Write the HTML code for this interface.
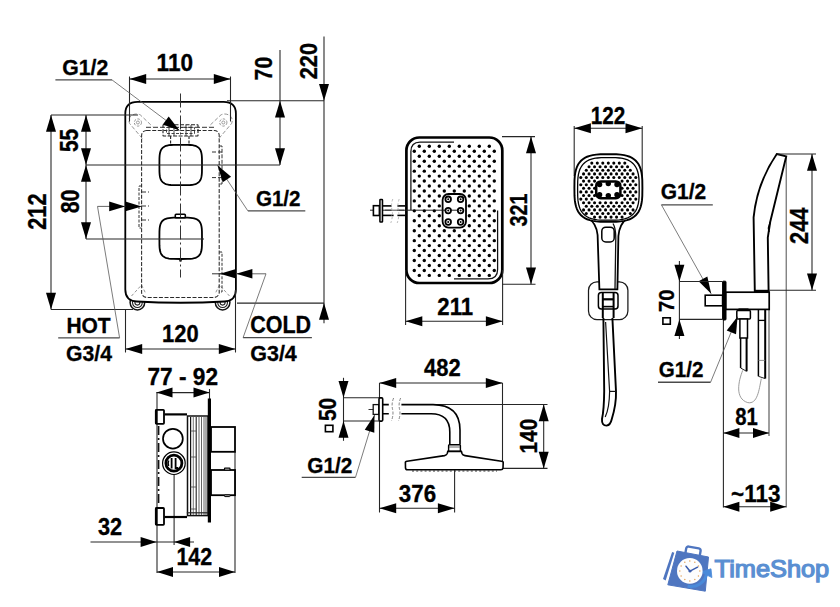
<!DOCTYPE html>
<html lang="en">
<head>
<meta charset="utf-8">
<title>Shower set - dimensional drawing</title>
<style>
html, body { margin: 0; padding: 0; background: #fff; }
body { width: 840px; height: 607px; overflow: hidden; }
svg { display: block; }
svg text { font-family: "Liberation Sans", Arial, Helvetica, sans-serif; font-weight: bold; fill: #000; }
</style>
</head>
<body>
<svg width="840" height="607" viewBox="0 0 840 607">
<rect x="0" y="0" width="840" height="607" fill="#ffffff"/>
<circle cx="137.4" cy="302.6" r="7.3" fill="#fff" stroke="#111" stroke-width="1.5" />
<circle cx="137.4" cy="302.6" r="4.9" fill="none" stroke="#222" stroke-width="1.1" />
<circle cx="137.4" cy="302.6" r="2.5" fill="none" stroke="#222" stroke-width="1.1" />
<circle cx="222.6" cy="302.6" r="7.3" fill="#fff" stroke="#111" stroke-width="1.5" />
<circle cx="222.6" cy="302.6" r="4.9" fill="none" stroke="#222" stroke-width="1.1" />
<circle cx="222.6" cy="302.6" r="2.5" fill="none" stroke="#222" stroke-width="1.1" />
<path d="M125.3,113.5 Q125.3,101.8 137.5,101.8 L223.5,101.8 Q235.9,101.8 235.9,113.5 L235.9,289.5 Q235.9,300.8 224.5,301.5 Q180.5,304 136.7,301.5 Q125.3,300.8 125.3,289.5 Z" fill="#fff" stroke="#000" stroke-width="1.8" />
<circle cx="137.9" cy="122.5" r="3.6" fill="none" stroke="#888" stroke-width="0.9" stroke-dasharray="2.5 1.5"/>
<circle cx="137.9" cy="122.5" r="1.5" fill="none" stroke="#888" stroke-width="0.8" />
<path d="M142.3,138.5 L129.6,123.5 Q127.6,118 132,115.2 Q136,113 140.2,114.8 L152.4,126.4" fill="none" stroke="#888" stroke-width="0.9" stroke-dasharray="4 2"/>
<circle cx="223.3" cy="122.5" r="3.6" fill="none" stroke="#888" stroke-width="0.9" stroke-dasharray="2.5 1.5"/>
<circle cx="223.3" cy="122.5" r="1.5" fill="none" stroke="#888" stroke-width="0.8" />
<path d="M218.9,138.5 L231.6,123.5 Q233.6,118 229.2,115.2 Q225.2,113 221,114.8 L208.8,126.4" fill="none" stroke="#888" stroke-width="0.9" stroke-dasharray="4 2"/>
<polyline points="131.5,296 141.5,285 145.5,293" fill="none" stroke="#888" stroke-width="0.9" stroke-dasharray="3 2"/>
<polyline points="229.5,296 219.5,285 215.5,293" fill="none" stroke="#888" stroke-width="0.9" stroke-dasharray="3 2"/>
<rect x="141.6" y="130.4" width="77.6" height="167" rx="5" fill="none" stroke="#2a2a2a" stroke-width="1.05" stroke-dasharray="4 1.6"/>
<line x1="146" y1="127.3" x2="215" y2="127.3" stroke="#333" stroke-width="1" stroke-dasharray="5 2"/>
<rect x="163" y="124.8" width="35" height="11.2" rx="0.5" fill="none" stroke="#222" stroke-width="1.1" stroke-dasharray="4 1.5"/>
<rect x="166.5" y="127.5" width="28" height="6" rx="0" fill="none" stroke="#333" stroke-width="0.9" stroke-dasharray="3 1.5"/>
<line x1="169" y1="125" x2="169" y2="136" stroke="#333" stroke-width="0.9" />
<line x1="174" y1="125" x2="174" y2="136" stroke="#333" stroke-width="0.9" />
<line x1="186" y1="125" x2="186" y2="136" stroke="#333" stroke-width="0.9" />
<line x1="191" y1="125" x2="191" y2="136" stroke="#333" stroke-width="0.9" />
<line x1="170.6" y1="136" x2="170.6" y2="143.5" stroke="#222" stroke-width="1.1" stroke-dasharray="3 1.5"/>
<line x1="189" y1="136" x2="189" y2="143.5" stroke="#222" stroke-width="1.1" stroke-dasharray="3 1.5"/>
<polyline points="219.3,146 222,146 222,184 219.3,184" fill="none" stroke="#333" stroke-width="1" stroke-dasharray="4 1.5"/>
<line x1="212" y1="152" x2="222" y2="152" stroke="#333" stroke-width="1" stroke-dasharray="4 2"/>
<line x1="212" y1="177.6" x2="222" y2="177.6" stroke="#333" stroke-width="1" stroke-dasharray="4 2"/>
<polyline points="141.5,186 139,186 139,228 141.5,228" fill="none" stroke="#333" stroke-width="1" stroke-dasharray="3 1.5"/>
<line x1="141" y1="192" x2="149" y2="192" stroke="#333" stroke-width="1" stroke-dasharray="5 2"/>
<line x1="141" y1="206" x2="149" y2="206" stroke="#333" stroke-width="1" stroke-dasharray="5 2"/>
<line x1="141" y1="220" x2="149" y2="220" stroke="#333" stroke-width="1" stroke-dasharray="5 2"/>
<polyline points="219.3,252 222,252 222,292 219.3,292" fill="none" stroke="#333" stroke-width="1" stroke-dasharray="3 1.5"/>
<line x1="212" y1="273.8" x2="221" y2="273.8" stroke="#333" stroke-width="1" />
<path d="M202,165 L201.95,171.68 L201.8,174.28 L201.56,176.21 L201.21,177.79 L200.76,179.12 L200.21,180.27 L199.54,181.26 L198.76,182.13 L197.85,182.87 L196.8,183.5 L195.59,184.03 L194.18,184.45 L192.52,184.78 L190.48,185.01 L187.75,185.15 L180.7,185.2 L173.65,185.15 L170.92,185.01 L168.88,184.78 L167.22,184.45 L165.81,184.03 L164.6,183.5 L163.55,182.87 L162.64,182.13 L161.86,181.26 L161.19,180.27 L160.64,179.12 L160.19,177.79 L159.84,176.21 L159.6,174.28 L159.45,171.68 L159.4,165 L159.45,158.32 L159.6,155.72 L159.84,153.79 L160.19,152.21 L160.64,150.88 L161.19,149.73 L161.86,148.74 L162.64,147.87 L163.55,147.13 L164.6,146.5 L165.81,145.97 L167.22,145.55 L168.88,145.22 L170.92,144.99 L173.65,144.85 L180.7,144.8 L187.75,144.85 L190.48,144.99 L192.52,145.22 L194.18,145.55 L195.59,145.97 L196.8,146.5 L197.85,147.13 L198.76,147.87 L199.54,148.74 L200.21,149.73 L200.76,150.88 L201.21,152.21 L201.56,153.79 L201.8,155.72 L201.95,158.32 Z" fill="#fff" stroke="#000" stroke-width="1.8" />
<path d="M202,238.3 L201.95,245.15 L201.8,247.81 L201.56,249.79 L201.21,251.4 L200.76,252.77 L200.21,253.95 L199.54,254.97 L198.76,255.85 L197.85,256.61 L196.8,257.26 L195.59,257.8 L194.18,258.23 L192.52,258.57 L190.48,258.81 L187.75,258.95 L180.7,259 L173.65,258.95 L170.92,258.81 L168.88,258.57 L167.22,258.23 L165.81,257.8 L164.6,257.26 L163.55,256.61 L162.64,255.85 L161.86,254.97 L161.19,253.95 L160.64,252.77 L160.19,251.4 L159.84,249.79 L159.6,247.81 L159.45,245.15 L159.4,238.3 L159.45,231.45 L159.6,228.79 L159.84,226.81 L160.19,225.2 L160.64,223.83 L161.19,222.65 L161.86,221.63 L162.64,220.75 L163.55,219.99 L164.6,219.34 L165.81,218.8 L167.22,218.37 L168.88,218.03 L170.92,217.79 L173.65,217.65 L180.7,217.6 L187.75,217.65 L190.48,217.79 L192.52,218.03 L194.18,218.37 L195.59,218.8 L196.8,219.34 L197.85,219.99 L198.76,220.75 L199.54,221.63 L200.21,222.65 L200.76,223.83 L201.21,225.2 L201.56,226.81 L201.8,228.79 L201.95,231.45 Z" fill="#fff" stroke="#000" stroke-width="1.8" />
<rect x="175.3" y="214.2" width="10" height="3.6" rx="0.8" fill="#fff" stroke="#000" stroke-width="1.6" />
<line x1="180.5" y1="259" x2="180.5" y2="261.5" stroke="#000" stroke-width="2.4" />
<line x1="180.5" y1="93.5" x2="180.5" y2="277.5" stroke="#2a2a2a" stroke-width="0.95" stroke-dasharray="14 3 2 3"/>
<line x1="129.5" y1="76.5" x2="129.5" y2="121.5" stroke="#262626" stroke-width="1.08" />
<line x1="230.5" y1="76.5" x2="230.5" y2="121.5" stroke="#262626" stroke-width="1.08" />
<line x1="129.5" y1="79" x2="230.5" y2="79" stroke="#262626" stroke-width="1.08" />
<polygon points="129.5,79 146.2,74 146.2,84" fill="#000"/>
<polygon points="230.5,79 213.8,84 213.8,74" fill="#000"/>
<text transform="translate(156.6 71.35) scale(1.027 1.120)" font-size="22" stroke="#000" stroke-width="0.3">110</text>
<text transform="translate(62.3 75.36) scale(0.966 1.007)" font-size="22" stroke="#000" stroke-width="0.3">G1/2</text>
<line x1="55.4" y1="79.9" x2="112" y2="79.9" stroke="#4a4a4a" stroke-width="1.35"/>
<line x1="112" y1="79.9" x2="179.5" y2="130.5" stroke="#5a5a5a" stroke-width="0.8"/>
<polygon points="179.5,130.5 162.81,124.55 168.69,116.46" fill="#000"/>
<line x1="51" y1="115" x2="138" y2="115" stroke="#262626" stroke-width="1.08" />
<line x1="86" y1="165" x2="280" y2="165" stroke="#262626" stroke-width="1.08" />
<line x1="86" y1="239" x2="204" y2="239" stroke="#262626" stroke-width="1.08" />
<line x1="51" y1="309.5" x2="133" y2="309.5" stroke="#262626" stroke-width="1.08" />
<line x1="51" y1="115" x2="51" y2="309.5" stroke="#262626" stroke-width="1.08" />
<polygon points="51,115 56,131.7 46,131.7" fill="#000"/>
<polygon points="51,309.5 46,292.8 56,292.8" fill="#000"/>
<text transform="translate(45.7 229.7) rotate(-90) scale(0.985 1.156)" font-size="22" stroke="#000" stroke-width="0.3">212</text>
<line x1="86" y1="115" x2="86" y2="239" stroke="#262626" stroke-width="1.08" />
<polygon points="86,115 91,131.7 81,131.7" fill="#000"/>
<polygon points="86,165 81,148.3 91,148.3" fill="#000"/>
<polygon points="86,165 91,181.7 81,181.7" fill="#000"/>
<polygon points="86,239 81,222.3 91,222.3" fill="#000"/>
<text transform="translate(78.44 152) rotate(-90) scale(0.946 1.182)" font-size="22" stroke="#000" stroke-width="0.3">55</text>
<text transform="translate(78.64 213.3) rotate(-90) scale(0.971 1.178)" font-size="22" stroke="#000" stroke-width="0.3">80</text>
<line x1="280" y1="50" x2="280" y2="165" stroke="#262626" stroke-width="1.08" />
<polygon points="280,100.8 285,117.5 275,117.5" fill="#000"/>
<polygon points="280,165 275,148.3 285,148.3" fill="#000"/>
<text transform="translate(272.45 80.4) rotate(-90) scale(0.966 1.120)" font-size="22" stroke="#000" stroke-width="0.3">70</text>
<line x1="227" y1="100.8" x2="324" y2="100.8" stroke="#262626" stroke-width="1.08" />
<line x1="237" y1="303.1" x2="324" y2="303.1" stroke="#262626" stroke-width="1.08" />
<line x1="324" y1="36.4" x2="324" y2="323.3" stroke="#262626" stroke-width="1.08" />
<polygon points="324,100.8 319,84.1 329,84.1" fill="#000"/>
<polygon points="324,303.1 329,319.8 319,319.8" fill="#000"/>
<text transform="translate(316.76 79.3) rotate(-90) scale(0.991 1.108)" font-size="22" stroke="#000" stroke-width="0.3">220</text>
<text transform="translate(255.9 206.25) scale(0.936 1.019)" font-size="22" stroke="#000" stroke-width="0.3">G1/2</text>
<line x1="247.9" y1="210.9" x2="305.3" y2="210.9" stroke="#4a4a4a" stroke-width="1.35"/>
<line x1="247.9" y1="210.9" x2="217.5" y2="165.3" stroke="#5a5a5a" stroke-width="0.8"/>
<polygon points="217.5,165.3 231.05,176.72 222.71,182.24" fill="#000"/>
<line x1="97.5" y1="206.4" x2="141" y2="206.4" stroke="#555" stroke-width="0.9" />
<polygon points="125.2,206.4 109.2,211.2 109.2,201.6" fill="#000"/>
<polygon points="141.6,206.4 125.4,211.2 125.4,201.6" fill="#000"/>
<line x1="58.2" y1="337.9" x2="119.6" y2="337.9" stroke="#4a4a4a" stroke-width="1.35"/>
<line x1="119.6" y1="337.9" x2="97.5" y2="206.4" stroke="#5a5a5a" stroke-width="0.8"/>
<text transform="translate(66.4 332.68) scale(0.954 0.980)" font-size="22" stroke="#000" stroke-width="0.3">HOT</text>
<text transform="translate(66.1 361.06) scale(0.964 1.007)" font-size="22" stroke="#000" stroke-width="0.3">G3/4</text>
<line x1="220" y1="273.8" x2="266" y2="273.8" stroke="#555" stroke-width="0.9" />
<polygon points="220,273.8 236,269 236,278.6" fill="#000"/>
<polygon points="236.2,273.8 252.4,269 252.4,278.6" fill="#000"/>
<line x1="243.1" y1="337.6" x2="311.9" y2="337.6" stroke="#4a4a4a" stroke-width="1.35"/>
<line x1="243.1" y1="337.6" x2="266" y2="273.8" stroke="#5a5a5a" stroke-width="0.8"/>
<text transform="translate(250.2 333.46) scale(0.978 1.076)" font-size="22" stroke="#000" stroke-width="0.3">COLD</text>
<text transform="translate(250.2 361.44) scale(0.978 1.037)" font-size="22" stroke="#000" stroke-width="0.3">G3/4</text>
<line x1="125.5" y1="309.5" x2="125.5" y2="352.5" stroke="#262626" stroke-width="1.08" />
<line x1="235.5" y1="290" x2="235.5" y2="352.5" stroke="#262626" stroke-width="1.08" />
<line x1="125.5" y1="349" x2="235.5" y2="349" stroke="#262626" stroke-width="1.08" />
<polygon points="125.5,349 142.2,344 142.2,354" fill="#000"/>
<polygon points="235.5,349 218.8,354 218.8,344" fill="#000"/>
<text transform="translate(162.1 342.06) scale(0.998 1.095)" font-size="22" stroke="#000" stroke-width="0.3">120</text>
<line x1="157" y1="392" x2="157" y2="573" stroke="#262626" stroke-width="1.08" />
<line x1="209.5" y1="389" x2="209.5" y2="400" stroke="#262626" stroke-width="1.08" />
<line x1="235" y1="452" x2="235" y2="573" stroke="#262626" stroke-width="1.08" />
<line x1="174.1" y1="475" x2="174.1" y2="545" stroke="#262626" stroke-width="1.08" />
<line x1="158.6" y1="426" x2="158.6" y2="506" stroke="#111" stroke-width="1.6" stroke-dasharray="9 3 2 3"/>
<rect x="155.8" y="409.8" width="8.2" height="14" rx="0.8" fill="#fff" stroke="#000" stroke-width="1.8" />
<rect x="155.8" y="508" width="8.2" height="16.8" rx="0.8" fill="#fff" stroke="#000" stroke-width="1.8" />
<line x1="156.4" y1="409.5" x2="156.4" y2="424" stroke="#000" stroke-width="2.6" />
<line x1="156.4" y1="507.6" x2="156.4" y2="525" stroke="#000" stroke-width="2.6" />
<line x1="164.5" y1="414.4" x2="187" y2="414.4" stroke="#000" stroke-width="2.2" />
<line x1="164.5" y1="517" x2="187" y2="517" stroke="#000" stroke-width="2.2" />
<rect x="187.5" y="416" width="20.5" height="99.6" rx="0" fill="#fff" stroke="#111" stroke-width="1.5" />
<line x1="190.6" y1="417" x2="190.6" y2="515" stroke="#111" stroke-width="1.2" />
<line x1="193.3" y1="417" x2="193.3" y2="515" stroke="#555" stroke-width="0.8" />
<line x1="196.2" y1="417" x2="196.2" y2="515" stroke="#222" stroke-width="1.1" />
<line x1="199" y1="417" x2="199" y2="515" stroke="#555" stroke-width="0.9" />
<line x1="201.5" y1="417" x2="201.5" y2="515" stroke="#555" stroke-width="0.9" />
<line x1="204" y1="417" x2="204" y2="515" stroke="#555" stroke-width="0.9" />
<line x1="206" y1="417" x2="206" y2="515" stroke="#444" stroke-width="0.9" />
<line x1="190.5" y1="431" x2="196" y2="431" stroke="#444" stroke-width="0.8" />
<line x1="190.5" y1="457" x2="196" y2="457" stroke="#444" stroke-width="0.8" />
<line x1="190.5" y1="487" x2="196" y2="487" stroke="#444" stroke-width="0.8" />
<line x1="190.5" y1="509" x2="196" y2="509" stroke="#444" stroke-width="0.8" />
<line x1="186.8" y1="512.8" x2="208" y2="512.8" stroke="#222" stroke-width="1.2" />
<line x1="209.4" y1="398.5" x2="209.4" y2="522.5" stroke="#000" stroke-width="3.2" />
<rect x="211" y="427" width="24" height="24.8" rx="0" fill="#fff" stroke="#000" stroke-width="1.8" />
<rect x="211" y="470" width="24" height="25.2" rx="0" fill="#fff" stroke="#000" stroke-width="1.8" />
<rect x="224.5" y="468.2" width="5.5" height="2" rx="0.5" fill="#fff" stroke="#000" stroke-width="1.2" />
<rect x="224.5" y="495" width="5.5" height="1.6" rx="0.5" fill="#fff" stroke="#000" stroke-width="1" />
<circle cx="172.9" cy="438.7" r="9.9" fill="#fff" stroke="#000" stroke-width="1.7" />
<circle cx="173.9" cy="463.2" r="11.3" fill="#fff" stroke="#000" stroke-width="1.2" />
<circle cx="173.9" cy="463.2" r="8" fill="#fff" stroke="#000" stroke-width="2.8" />
<path d="M171.6,458 L171.6,468.6 M175.6,458 L175.6,468 L178.2,468" fill="none" stroke="#000" stroke-width="1.8" />
<path d="M168.6,460.5 Q167.4,463.2 168.6,466" fill="none" stroke="#000" stroke-width="1.6" />
<line x1="156.5" y1="392.6" x2="209.5" y2="392.6" stroke="#262626" stroke-width="1.08" />
<polygon points="156.5,392.6 172.5,387.6 172.5,397.6" fill="#000"/>
<polygon points="209.5,392.6 193.5,397.6 193.5,387.6" fill="#000"/>
<text transform="translate(147.5 385.25) scale(1.029 1.120)" font-size="22" stroke="#000" stroke-width="0.3">77 - 92</text>
<line x1="90.5" y1="542" x2="194" y2="542" stroke="#262626" stroke-width="1.08" />
<polygon points="156.6,542 140.6,547 140.6,537" fill="#000"/>
<polygon points="174.1,542 190.1,537 190.1,547" fill="#000"/>
<text transform="translate(98 534.66) scale(0.987 1.082)" font-size="22" stroke="#000" stroke-width="0.3">32</text>
<line x1="157" y1="572" x2="235" y2="572" stroke="#262626" stroke-width="1.08" />
<polygon points="157,572 173,567 173,577" fill="#000"/>
<polygon points="235,572 219,577 219,567" fill="#000"/>
<text transform="translate(176.4 565.4) scale(0.974 1.078)" font-size="22" stroke="#000" stroke-width="0.3">142</text>
<line x1="370" y1="210.2" x2="498" y2="210.2" stroke="#222" stroke-width="1" />
<rect x="373.4" y="205.7" width="6" height="9.8" rx="0" fill="#fff" stroke="#000" stroke-width="1.6" />
<rect x="379.9" y="199.4" width="2.6" height="22.6" rx="0.6" fill="#e8e8e8" stroke="#000" stroke-width="1.5" />
<line x1="383" y1="205.9" x2="405" y2="205.9" stroke="#000" stroke-width="1.6" />
<line x1="383" y1="215.4" x2="405" y2="215.4" stroke="#000" stroke-width="1.6" />
<rect x="391.6" y="204" width="5.8" height="13" rx="0" fill="#fff" stroke="#fff" stroke-width="0" />
<line x1="391.6" y1="215.4" x2="393.6" y2="215.4" stroke="#000" stroke-width="1.6" />
<line x1="385" y1="210.2" x2="404" y2="210.2" stroke="#333" stroke-width="0.9" />
<path d="M392.8,199 Q390.6,205 392.1,210.5 Q393.20000000000005,216 390.8,223" fill="none" stroke="#aaa" stroke-width="0.8" stroke-dasharray="2.5 2"/>
<path d="M399.2,199 Q397,205 398.5,210.5 Q399.6,216 397.2,223" fill="none" stroke="#aaa" stroke-width="0.8" stroke-dasharray="2.5 2"/>
<rect x="406.4" y="137.5" width="95.9" height="145.5" rx="13" fill="#fff" stroke="#000" stroke-width="2.7" />
<path d="M454,142.1 L420,142.1 Q410.9,142.1 410.9,151.5 L410.9,210" fill="none" stroke="#111" stroke-width="1.25" />
<path d="M497.6,210.6 L497.6,269.5 Q497.6,278.9 488,278.9 L454,278.9" fill="none" stroke="#111" stroke-width="1.25" />
<line x1="405.6" y1="210.2" x2="442" y2="210.2" stroke="#222" stroke-width="1" />
<g fill="#000"><circle cx="419.3" cy="146.3" r="1.7"/><circle cx="429.3" cy="146.3" r="1.7"/><circle cx="439.3" cy="146.3" r="1.7"/><circle cx="449.3" cy="146.3" r="1.7"/><circle cx="459.3" cy="146.3" r="1.7"/><circle cx="469.3" cy="146.3" r="1.7"/><circle cx="479.3" cy="146.3" r="1.7"/><circle cx="489.3" cy="146.3" r="1.7"/><circle cx="414.3" cy="151.27" r="1.7"/><circle cx="424.3" cy="151.27" r="1.7"/><circle cx="434.3" cy="151.27" r="1.7"/><circle cx="444.3" cy="151.27" r="1.7"/><circle cx="454.3" cy="151.27" r="1.7"/><circle cx="464.3" cy="151.27" r="1.7"/><circle cx="474.3" cy="151.27" r="1.7"/><circle cx="484.3" cy="151.27" r="1.7"/><circle cx="494.3" cy="151.27" r="1.7"/><circle cx="419.3" cy="156.23" r="1.7"/><circle cx="429.3" cy="156.23" r="1.7"/><circle cx="439.3" cy="156.23" r="1.7"/><circle cx="449.3" cy="156.23" r="1.7"/><circle cx="459.3" cy="156.23" r="1.7"/><circle cx="469.3" cy="156.23" r="1.7"/><circle cx="479.3" cy="156.23" r="1.7"/><circle cx="489.3" cy="156.23" r="1.7"/><circle cx="414.3" cy="161.2" r="1.7"/><circle cx="424.3" cy="161.2" r="1.7"/><circle cx="434.3" cy="161.2" r="1.7"/><circle cx="444.3" cy="161.2" r="1.7"/><circle cx="454.3" cy="161.2" r="1.7"/><circle cx="464.3" cy="161.2" r="1.7"/><circle cx="474.3" cy="161.2" r="1.7"/><circle cx="484.3" cy="161.2" r="1.7"/><circle cx="494.3" cy="161.2" r="1.7"/><circle cx="419.3" cy="166.16" r="1.7"/><circle cx="429.3" cy="166.16" r="1.7"/><circle cx="439.3" cy="166.16" r="1.7"/><circle cx="449.3" cy="166.16" r="1.7"/><circle cx="459.3" cy="166.16" r="1.7"/><circle cx="469.3" cy="166.16" r="1.7"/><circle cx="479.3" cy="166.16" r="1.7"/><circle cx="489.3" cy="166.16" r="1.7"/><circle cx="414.3" cy="171.13" r="1.7"/><circle cx="424.3" cy="171.13" r="1.7"/><circle cx="434.3" cy="171.13" r="1.7"/><circle cx="444.3" cy="171.13" r="1.7"/><circle cx="454.3" cy="171.13" r="1.7"/><circle cx="464.3" cy="171.13" r="1.7"/><circle cx="474.3" cy="171.13" r="1.7"/><circle cx="484.3" cy="171.13" r="1.7"/><circle cx="494.3" cy="171.13" r="1.7"/><circle cx="419.3" cy="176.09" r="1.7"/><circle cx="429.3" cy="176.09" r="1.7"/><circle cx="439.3" cy="176.09" r="1.7"/><circle cx="449.3" cy="176.09" r="1.7"/><circle cx="459.3" cy="176.09" r="1.7"/><circle cx="469.3" cy="176.09" r="1.7"/><circle cx="479.3" cy="176.09" r="1.7"/><circle cx="489.3" cy="176.09" r="1.7"/><circle cx="414.3" cy="181.06" r="1.7"/><circle cx="424.3" cy="181.06" r="1.7"/><circle cx="434.3" cy="181.06" r="1.7"/><circle cx="444.3" cy="181.06" r="1.7"/><circle cx="454.3" cy="181.06" r="1.7"/><circle cx="464.3" cy="181.06" r="1.7"/><circle cx="474.3" cy="181.06" r="1.7"/><circle cx="484.3" cy="181.06" r="1.7"/><circle cx="494.3" cy="181.06" r="1.7"/><circle cx="419.3" cy="186.02" r="1.7"/><circle cx="429.3" cy="186.02" r="1.7"/><circle cx="439.3" cy="186.02" r="1.7"/><circle cx="449.3" cy="186.02" r="1.7"/><circle cx="459.3" cy="186.02" r="1.7"/><circle cx="469.3" cy="186.02" r="1.7"/><circle cx="479.3" cy="186.02" r="1.7"/><circle cx="489.3" cy="186.02" r="1.7"/><circle cx="414.3" cy="190.99" r="1.7"/><circle cx="424.3" cy="190.99" r="1.7"/><circle cx="434.3" cy="190.99" r="1.7"/><circle cx="444.3" cy="190.99" r="1.7"/><circle cx="454.3" cy="190.99" r="1.7"/><circle cx="464.3" cy="190.99" r="1.7"/><circle cx="474.3" cy="190.99" r="1.7"/><circle cx="484.3" cy="190.99" r="1.7"/><circle cx="494.3" cy="190.99" r="1.7"/><circle cx="419.3" cy="195.95" r="1.7"/><circle cx="429.3" cy="195.95" r="1.7"/><circle cx="439.3" cy="195.95" r="1.7"/><circle cx="469.3" cy="195.95" r="1.7"/><circle cx="479.3" cy="195.95" r="1.7"/><circle cx="489.3" cy="195.95" r="1.7"/><circle cx="414.3" cy="200.92" r="1.7"/><circle cx="424.3" cy="200.92" r="1.7"/><circle cx="434.3" cy="200.92" r="1.7"/><circle cx="474.3" cy="200.92" r="1.7"/><circle cx="484.3" cy="200.92" r="1.7"/><circle cx="494.3" cy="200.92" r="1.7"/><circle cx="419.3" cy="205.88" r="1.7"/><circle cx="429.3" cy="205.88" r="1.7"/><circle cx="439.3" cy="205.88" r="1.7"/><circle cx="469.3" cy="205.88" r="1.7"/><circle cx="479.3" cy="205.88" r="1.7"/><circle cx="489.3" cy="205.88" r="1.7"/><circle cx="414.3" cy="210.85" r="1.7"/><circle cx="424.3" cy="210.85" r="1.7"/><circle cx="434.3" cy="210.85" r="1.7"/><circle cx="474.3" cy="210.85" r="1.7"/><circle cx="484.3" cy="210.85" r="1.7"/><circle cx="494.3" cy="210.85" r="1.7"/><circle cx="419.3" cy="215.82" r="1.7"/><circle cx="429.3" cy="215.82" r="1.7"/><circle cx="439.3" cy="215.82" r="1.7"/><circle cx="469.3" cy="215.82" r="1.7"/><circle cx="479.3" cy="215.82" r="1.7"/><circle cx="489.3" cy="215.82" r="1.7"/><circle cx="414.3" cy="220.78" r="1.7"/><circle cx="424.3" cy="220.78" r="1.7"/><circle cx="434.3" cy="220.78" r="1.7"/><circle cx="474.3" cy="220.78" r="1.7"/><circle cx="484.3" cy="220.78" r="1.7"/><circle cx="494.3" cy="220.78" r="1.7"/><circle cx="419.3" cy="225.75" r="1.7"/><circle cx="429.3" cy="225.75" r="1.7"/><circle cx="439.3" cy="225.75" r="1.7"/><circle cx="469.3" cy="225.75" r="1.7"/><circle cx="479.3" cy="225.75" r="1.7"/><circle cx="489.3" cy="225.75" r="1.7"/><circle cx="414.3" cy="230.71" r="1.7"/><circle cx="424.3" cy="230.71" r="1.7"/><circle cx="434.3" cy="230.71" r="1.7"/><circle cx="444.3" cy="230.71" r="1.7"/><circle cx="454.3" cy="230.71" r="1.7"/><circle cx="464.3" cy="230.71" r="1.7"/><circle cx="474.3" cy="230.71" r="1.7"/><circle cx="484.3" cy="230.71" r="1.7"/><circle cx="494.3" cy="230.71" r="1.7"/><circle cx="419.3" cy="235.68" r="1.7"/><circle cx="429.3" cy="235.68" r="1.7"/><circle cx="439.3" cy="235.68" r="1.7"/><circle cx="449.3" cy="235.68" r="1.7"/><circle cx="459.3" cy="235.68" r="1.7"/><circle cx="469.3" cy="235.68" r="1.7"/><circle cx="479.3" cy="235.68" r="1.7"/><circle cx="489.3" cy="235.68" r="1.7"/><circle cx="414.3" cy="240.64" r="1.7"/><circle cx="424.3" cy="240.64" r="1.7"/><circle cx="434.3" cy="240.64" r="1.7"/><circle cx="444.3" cy="240.64" r="1.7"/><circle cx="454.3" cy="240.64" r="1.7"/><circle cx="464.3" cy="240.64" r="1.7"/><circle cx="474.3" cy="240.64" r="1.7"/><circle cx="484.3" cy="240.64" r="1.7"/><circle cx="494.3" cy="240.64" r="1.7"/><circle cx="419.3" cy="245.61" r="1.7"/><circle cx="429.3" cy="245.61" r="1.7"/><circle cx="439.3" cy="245.61" r="1.7"/><circle cx="449.3" cy="245.61" r="1.7"/><circle cx="459.3" cy="245.61" r="1.7"/><circle cx="469.3" cy="245.61" r="1.7"/><circle cx="479.3" cy="245.61" r="1.7"/><circle cx="489.3" cy="245.61" r="1.7"/><circle cx="414.3" cy="250.57" r="1.7"/><circle cx="424.3" cy="250.57" r="1.7"/><circle cx="434.3" cy="250.57" r="1.7"/><circle cx="444.3" cy="250.57" r="1.7"/><circle cx="454.3" cy="250.57" r="1.7"/><circle cx="464.3" cy="250.57" r="1.7"/><circle cx="474.3" cy="250.57" r="1.7"/><circle cx="484.3" cy="250.57" r="1.7"/><circle cx="494.3" cy="250.57" r="1.7"/><circle cx="419.3" cy="255.54" r="1.7"/><circle cx="429.3" cy="255.54" r="1.7"/><circle cx="439.3" cy="255.54" r="1.7"/><circle cx="449.3" cy="255.54" r="1.7"/><circle cx="459.3" cy="255.54" r="1.7"/><circle cx="469.3" cy="255.54" r="1.7"/><circle cx="479.3" cy="255.54" r="1.7"/><circle cx="489.3" cy="255.54" r="1.7"/><circle cx="414.3" cy="260.5" r="1.7"/><circle cx="424.3" cy="260.5" r="1.7"/><circle cx="434.3" cy="260.5" r="1.7"/><circle cx="444.3" cy="260.5" r="1.7"/><circle cx="454.3" cy="260.5" r="1.7"/><circle cx="464.3" cy="260.5" r="1.7"/><circle cx="474.3" cy="260.5" r="1.7"/><circle cx="484.3" cy="260.5" r="1.7"/><circle cx="494.3" cy="260.5" r="1.7"/><circle cx="419.3" cy="265.47" r="1.7"/><circle cx="429.3" cy="265.47" r="1.7"/><circle cx="439.3" cy="265.47" r="1.7"/><circle cx="449.3" cy="265.47" r="1.7"/><circle cx="459.3" cy="265.47" r="1.7"/><circle cx="469.3" cy="265.47" r="1.7"/><circle cx="479.3" cy="265.47" r="1.7"/><circle cx="489.3" cy="265.47" r="1.7"/><circle cx="414.3" cy="270.43" r="1.7"/><circle cx="424.3" cy="270.43" r="1.7"/><circle cx="434.3" cy="270.43" r="1.7"/><circle cx="444.3" cy="270.43" r="1.7"/><circle cx="454.3" cy="270.43" r="1.7"/><circle cx="464.3" cy="270.43" r="1.7"/><circle cx="474.3" cy="270.43" r="1.7"/><circle cx="484.3" cy="270.43" r="1.7"/><circle cx="494.3" cy="270.43" r="1.7"/><circle cx="419.3" cy="275.4" r="1.7"/><circle cx="429.3" cy="275.4" r="1.7"/><circle cx="439.3" cy="275.4" r="1.7"/><circle cx="449.3" cy="275.4" r="1.7"/><circle cx="459.3" cy="275.4" r="1.7"/><circle cx="469.3" cy="275.4" r="1.7"/><circle cx="479.3" cy="275.4" r="1.7"/><circle cx="489.3" cy="275.4" r="1.7"/></g>
<rect x="442.6" y="194" width="23.4" height="33.6" rx="6" fill="#fff" stroke="#000" stroke-width="1.8" />
<line x1="442.6" y1="210.2" x2="460.6" y2="210.2" stroke="#222" stroke-width="1" />
<circle cx="448.2" cy="199.3" r="2.8" fill="#fff" stroke="#000" stroke-width="1.8" />
<circle cx="448.2" cy="199.3" r="1" fill="#000" stroke="#000" stroke-width="0" />
<circle cx="460.6" cy="199.3" r="2.8" fill="#fff" stroke="#000" stroke-width="1.8" />
<circle cx="460.6" cy="199.3" r="1" fill="#000" stroke="#000" stroke-width="0" />
<circle cx="448.2" cy="210.6" r="2.8" fill="#fff" stroke="#000" stroke-width="1.8" />
<circle cx="448.2" cy="210.6" r="1" fill="#000" stroke="#000" stroke-width="0" />
<circle cx="460.6" cy="210.6" r="2.8" fill="#fff" stroke="#000" stroke-width="1.8" />
<circle cx="460.6" cy="210.6" r="1" fill="#000" stroke="#000" stroke-width="0" />
<circle cx="448.2" cy="222" r="2.8" fill="#fff" stroke="#000" stroke-width="1.8" />
<circle cx="448.2" cy="222" r="1" fill="#000" stroke="#000" stroke-width="0" />
<circle cx="460.6" cy="222" r="2.8" fill="#fff" stroke="#000" stroke-width="1.8" />
<circle cx="460.6" cy="222" r="1" fill="#000" stroke="#000" stroke-width="0" />
<line x1="502" y1="136.6" x2="535" y2="136.6" stroke="#262626" stroke-width="1.08" />
<line x1="502" y1="284.2" x2="535.5" y2="284.2" stroke="#262626" stroke-width="1.08" />
<line x1="531" y1="136.6" x2="531" y2="284.2" stroke="#262626" stroke-width="1.08" />
<polygon points="531,136.6 536,153.3 526,153.3" fill="#000"/>
<polygon points="531,284.2 526,267.5 536,267.5" fill="#000"/>
<text transform="translate(527.26 226.5) rotate(-90) scale(0.895 1.108)" font-size="22" stroke="#000" stroke-width="0.3">321</text>
<line x1="405.6" y1="270" x2="405.6" y2="325" stroke="#262626" stroke-width="1.08" />
<line x1="502.6" y1="270" x2="502.6" y2="325" stroke="#262626" stroke-width="1.08" />
<line x1="405.6" y1="321.2" x2="502.6" y2="321.2" stroke="#262626" stroke-width="1.08" />
<polygon points="405.6,321.2 422.3,316.2 422.3,326.2" fill="#000"/>
<polygon points="502.6,321.2 485.9,326.2 485.9,316.2" fill="#000"/>
<text transform="translate(437.3 314.6) scale(1.008 1.123)" font-size="22" stroke="#000" stroke-width="0.3">211</text>
<line x1="379.5" y1="383" x2="379.5" y2="512.5" stroke="#262626" stroke-width="1.08" />
<line x1="502.5" y1="383" x2="502.5" y2="462" stroke="#262626" stroke-width="1.08" />
<line x1="454.6" y1="470" x2="454.6" y2="512.5" stroke="#262626" stroke-width="1.08" />
<line x1="436" y1="404.5" x2="547.5" y2="404.5" stroke="#262626" stroke-width="1.08" />
<line x1="503" y1="468.4" x2="547.5" y2="468.4" stroke="#262626" stroke-width="1.08" />
<line x1="368.5" y1="409.5" x2="379" y2="409.5" stroke="#333" stroke-width="1" />
<rect x="373.2" y="404.6" width="5.6" height="9.8" rx="0" fill="#fff" stroke="#111" stroke-width="1.3" />
<rect x="379" y="397.9" width="3.7" height="23.2" rx="1" fill="#fff" stroke="#000" stroke-width="1.6" />
<path d="M382.6,404.6 L433,404.6 Q460,404.6 460,430 L460,444.6" fill="none" stroke="#000" stroke-width="1.6" />
<path d="M382.6,413.8 L431,413.8 Q449.8,413.8 449.8,432 L449.8,444.6" fill="none" stroke="#000" stroke-width="1.6" />
<rect x="388.8" y="402" width="12.6" height="14" rx="0" fill="#fff" stroke="#fff" stroke-width="0" />
<path d="M393.59999999999997,398 Q391.2,404 392.59999999999997,409.5 Q393.8,414.5 391.4,421" fill="none" stroke="#777" stroke-width="0.9" stroke-dasharray="3 1.6"/>
<path d="M400.59999999999997,398 Q398.2,404 399.59999999999997,409.5 Q400.8,414.5 398.4,421" fill="none" stroke="#777" stroke-width="0.9" stroke-dasharray="3 1.6"/>
<rect x="448.6" y="444.8" width="11.8" height="6.6" rx="0.8" fill="#fff" stroke="#000" stroke-width="1.4" />
<line x1="449" y1="447" x2="460" y2="447" stroke="#444" stroke-width="0.8" />
<path d="M405.4,462.6 Q405,461.6 407,461.2 L444.5,455.6 Q446.8,455.2 447.3,453.4 L447.8,451.4 L461.4,451.4 L462,453.4 Q462.6,455.2 465,455.6 L501.4,461.2 Q503.4,461.6 503.2,462.6 L503,468 Q502.8,469.8 500.8,469.8 L407.6,469.8 Q405.6,469.8 405.5,468 Z" fill="#fff" stroke="#000" stroke-width="1.6" />
<line x1="412" y1="471" x2="497" y2="471" stroke="#333" stroke-width="1.2" stroke-dasharray="2 2.2"/>
<line x1="379.5" y1="383" x2="502.5" y2="383" stroke="#262626" stroke-width="1.08" />
<polygon points="379.5,383 396.2,378 396.2,388" fill="#000"/>
<polygon points="502.5,383 485.8,388 485.8,378" fill="#000"/>
<text transform="translate(424.1 375.56) scale(0.999 1.095)" font-size="22" stroke="#000" stroke-width="0.3">482</text>
<line x1="379.5" y1="508.2" x2="454.6" y2="508.2" stroke="#262626" stroke-width="1.08" />
<polygon points="379.5,508.2 396.2,503.2 396.2,513.2" fill="#000"/>
<polygon points="454.6,508.2 437.9,513.2 437.9,503.2" fill="#000"/>
<text transform="translate(398.8 501.55) scale(1.015 1.114)" font-size="22" stroke="#000" stroke-width="0.3">376</text>
<line x1="543.7" y1="404.5" x2="543.7" y2="468.4" stroke="#262626" stroke-width="1.08" />
<polygon points="543.7,404.5 548.7,421.2 538.7,421.2" fill="#000"/>
<polygon points="543.7,468.4 538.7,451.7 548.7,451.7" fill="#000"/>
<text transform="translate(536.56 453.4) rotate(-90) scale(0.942 1.088)" font-size="22" stroke="#000" stroke-width="0.3">140</text>
<line x1="343.5" y1="397.8" x2="379" y2="397.8" stroke="#262626" stroke-width="1.08" />
<line x1="343.5" y1="421" x2="379" y2="421" stroke="#262626" stroke-width="1.08" />
<line x1="343.5" y1="377.8" x2="343.5" y2="440.8" stroke="#262626" stroke-width="1.08" />
<polygon points="343.5,397.8 338.5,381.1 348.5,381.1" fill="#000"/>
<polygon points="343.5,421 348.5,437.7 338.5,437.7" fill="#000"/>
<text transform="translate(335.96 421.1) rotate(-90) scale(0.954 1.076)" font-size="22" stroke="#000" stroke-width="0.3">50</text>
<rect x="325.4" y="425.3" width="7.5" height="6.4" rx="0" fill="none" stroke="#000" stroke-width="1.6" />
<text transform="translate(307.2 473.25) scale(0.947 1.031)" font-size="22" stroke="#000" stroke-width="0.3">G1/2</text>
<line x1="301.7" y1="477.3" x2="355.5" y2="477.3" stroke="#4a4a4a" stroke-width="1.35"/>
<line x1="355.5" y1="477.3" x2="374.5" y2="415" stroke="#5a5a5a" stroke-width="0.8"/>
<polygon points="374.5,415 374.31,432.72 364.75,429.8" fill="#000"/>
<line x1="574.2" y1="126" x2="574.2" y2="176" stroke="#262626" stroke-width="1.08" />
<line x1="642.2" y1="126" x2="642.2" y2="176" stroke="#262626" stroke-width="1.08" />
<line x1="574.2" y1="128.2" x2="642.2" y2="128.2" stroke="#262626" stroke-width="1.08" />
<polygon points="574.2,128.2 590.9,123.2 590.9,133.2" fill="#000"/>
<polygon points="642.2,128.2 625.5,133.2 625.5,123.2" fill="#000"/>
<text transform="translate(590.7 124.3) scale(0.942 1.104)" font-size="22" stroke="#000" stroke-width="0.3">122</text>
<rect x="588.5" y="281.8" width="39.4" height="37.8" rx="8.5" fill="#fff" stroke="#1a1a1a" stroke-width="1.25" />
<path d="M588,218 Q596.4,223 597.6,235 L599.4,289.3 L617.4,289.3 L618.4,236 Q619.4,224 627.4,218" fill="#fff" stroke="#000" stroke-width="1.8" />
<path d="M613,223.5 Q615.8,228 615.8,238 L615,289" fill="none" stroke="#111" stroke-width="1.3" />
<rect x="601.8" y="227.2" width="12.4" height="14.8" rx="4" fill="#fff" stroke="#000" stroke-width="1.5" />
<path d="M642.4,188 L642.3,195.92 L641.99,200.17 L641.48,203.6 L640.76,206.54 L639.83,209.12 L638.7,211.41 L637.35,213.43 L635.78,215.22 L633.98,216.78 L631.95,218.12 L629.65,219.25 L627.05,220.17 L624.09,220.88 L620.64,221.39 L616.36,221.7 L608.4,221.8 L600.44,221.7 L596.16,221.39 L592.71,220.88 L589.75,220.17 L587.15,219.25 L584.85,218.12 L582.82,216.78 L581.02,215.22 L579.45,213.43 L578.1,211.41 L576.97,209.12 L576.04,206.54 L575.32,203.6 L574.81,200.17 L574.5,195.92 L574.4,188 L574.5,180.08 L574.81,175.83 L575.32,172.4 L576.04,169.46 L576.97,166.88 L578.1,164.59 L579.45,162.57 L581.02,160.78 L582.82,159.22 L584.85,157.88 L587.15,156.75 L589.75,155.83 L592.71,155.12 L596.16,154.61 L600.44,154.3 L608.4,154.2 L616.36,154.3 L620.64,154.61 L624.09,155.12 L627.05,155.83 L629.65,156.75 L631.95,157.88 L633.98,159.22 L635.78,160.78 L637.35,162.57 L638.7,164.59 L639.83,166.88 L640.76,169.46 L641.48,172.4 L641.99,175.83 L642.3,180.08 Z" fill="#fff" stroke="#000" stroke-width="1.9" />
<path d="M639.2,188.9 L639.11,196.23 L638.83,200.17 L638.36,203.35 L637.71,206.07 L636.87,208.46 L635.84,210.58 L634.62,212.45 L633.2,214.1 L631.58,215.55 L629.73,216.79 L627.65,217.84 L625.3,218.69 L622.62,219.35 L619.49,219.82 L615.61,220.11 L608.4,220.2 L601.19,220.11 L597.31,219.82 L594.18,219.35 L591.5,218.69 L589.15,217.84 L587.07,216.79 L585.22,215.55 L583.6,214.1 L582.18,212.45 L580.96,210.58 L579.93,208.46 L579.09,206.07 L578.44,203.35 L577.97,200.17 L577.69,196.23 L577.6,188.9 L577.69,181.57 L577.97,177.63 L578.44,174.45 L579.09,171.73 L579.93,169.34 L580.96,167.22 L582.18,165.35 L583.6,163.7 L585.22,162.25 L587.07,161.01 L589.15,159.96 L591.5,159.11 L594.18,158.45 L597.31,157.98 L601.19,157.69 L608.4,157.6 L615.61,157.69 L619.49,157.98 L622.62,158.45 L625.3,159.11 L627.65,159.96 L629.73,161.01 L631.58,162.25 L633.2,163.7 L634.62,165.35 L635.84,167.22 L636.87,169.34 L637.71,171.73 L638.36,174.45 L638.83,177.63 L639.11,181.57 Z" fill="none" stroke="#000" stroke-width="1.3" />
<g fill="#000"><circle cx="591.8" cy="163.1" r="1.55"/><circle cx="597.3" cy="163.1" r="1.55"/><circle cx="602.8" cy="163.1" r="1.55"/><circle cx="608.3" cy="163.1" r="1.55"/><circle cx="613.8" cy="163.1" r="1.55"/><circle cx="619.3" cy="163.1" r="1.55"/><circle cx="624.8" cy="163.1" r="1.55"/><circle cx="589.05" cy="166.7" r="1.55"/><circle cx="594.55" cy="166.7" r="1.55"/><circle cx="600.05" cy="166.7" r="1.55"/><circle cx="605.55" cy="166.7" r="1.55"/><circle cx="611.05" cy="166.7" r="1.55"/><circle cx="616.55" cy="166.7" r="1.55"/><circle cx="622.05" cy="166.7" r="1.55"/><circle cx="627.55" cy="166.7" r="1.55"/><circle cx="586.3" cy="170.3" r="1.55"/><circle cx="591.8" cy="170.3" r="1.55"/><circle cx="597.3" cy="170.3" r="1.55"/><circle cx="602.8" cy="170.3" r="1.55"/><circle cx="608.3" cy="170.3" r="1.55"/><circle cx="613.8" cy="170.3" r="1.55"/><circle cx="619.3" cy="170.3" r="1.55"/><circle cx="624.8" cy="170.3" r="1.55"/><circle cx="630.3" cy="170.3" r="1.55"/><circle cx="583.55" cy="173.9" r="1.55"/><circle cx="589.05" cy="173.9" r="1.55"/><circle cx="594.55" cy="173.9" r="1.55"/><circle cx="600.05" cy="173.9" r="1.55"/><circle cx="605.55" cy="173.9" r="1.55"/><circle cx="611.05" cy="173.9" r="1.55"/><circle cx="616.55" cy="173.9" r="1.55"/><circle cx="622.05" cy="173.9" r="1.55"/><circle cx="627.55" cy="173.9" r="1.55"/><circle cx="633.05" cy="173.9" r="1.55"/><circle cx="580.8" cy="177.5" r="1.55"/><circle cx="586.3" cy="177.5" r="1.55"/><circle cx="591.8" cy="177.5" r="1.55"/><circle cx="597.3" cy="177.5" r="1.55"/><circle cx="602.8" cy="177.5" r="1.55"/><circle cx="608.3" cy="177.5" r="1.55"/><circle cx="613.8" cy="177.5" r="1.55"/><circle cx="619.3" cy="177.5" r="1.55"/><circle cx="624.8" cy="177.5" r="1.55"/><circle cx="630.3" cy="177.5" r="1.55"/><circle cx="635.8" cy="177.5" r="1.55"/><circle cx="583.55" cy="181.1" r="1.55"/><circle cx="589.05" cy="181.1" r="1.55"/><circle cx="594.55" cy="181.1" r="1.55"/><circle cx="622.05" cy="181.1" r="1.55"/><circle cx="627.55" cy="181.1" r="1.55"/><circle cx="633.05" cy="181.1" r="1.55"/><circle cx="580.8" cy="184.7" r="1.55"/><circle cx="586.3" cy="184.7" r="1.55"/><circle cx="591.8" cy="184.7" r="1.55"/><circle cx="624.8" cy="184.7" r="1.55"/><circle cx="630.3" cy="184.7" r="1.55"/><circle cx="635.8" cy="184.7" r="1.55"/><circle cx="583.55" cy="188.3" r="1.55"/><circle cx="589.05" cy="188.3" r="1.55"/><circle cx="594.55" cy="188.3" r="1.55"/><circle cx="622.05" cy="188.3" r="1.55"/><circle cx="627.55" cy="188.3" r="1.55"/><circle cx="633.05" cy="188.3" r="1.55"/><circle cx="580.8" cy="191.9" r="1.55"/><circle cx="586.3" cy="191.9" r="1.55"/><circle cx="591.8" cy="191.9" r="1.55"/><circle cx="624.8" cy="191.9" r="1.55"/><circle cx="630.3" cy="191.9" r="1.55"/><circle cx="635.8" cy="191.9" r="1.55"/><circle cx="583.55" cy="195.5" r="1.55"/><circle cx="589.05" cy="195.5" r="1.55"/><circle cx="594.55" cy="195.5" r="1.55"/><circle cx="622.05" cy="195.5" r="1.55"/><circle cx="627.55" cy="195.5" r="1.55"/><circle cx="633.05" cy="195.5" r="1.55"/><circle cx="580.8" cy="199.1" r="1.55"/><circle cx="586.3" cy="199.1" r="1.55"/><circle cx="591.8" cy="199.1" r="1.55"/><circle cx="624.8" cy="199.1" r="1.55"/><circle cx="630.3" cy="199.1" r="1.55"/><circle cx="635.8" cy="199.1" r="1.55"/><circle cx="583.55" cy="202.7" r="1.55"/><circle cx="589.05" cy="202.7" r="1.55"/><circle cx="594.55" cy="202.7" r="1.55"/><circle cx="600.05" cy="202.7" r="1.55"/><circle cx="605.55" cy="202.7" r="1.55"/><circle cx="611.05" cy="202.7" r="1.55"/><circle cx="616.55" cy="202.7" r="1.55"/><circle cx="622.05" cy="202.7" r="1.55"/><circle cx="627.55" cy="202.7" r="1.55"/><circle cx="633.05" cy="202.7" r="1.55"/><circle cx="586.3" cy="206.3" r="1.55"/><circle cx="591.8" cy="206.3" r="1.55"/><circle cx="597.3" cy="206.3" r="1.55"/><circle cx="602.8" cy="206.3" r="1.55"/><circle cx="608.3" cy="206.3" r="1.55"/><circle cx="613.8" cy="206.3" r="1.55"/><circle cx="619.3" cy="206.3" r="1.55"/><circle cx="624.8" cy="206.3" r="1.55"/><circle cx="630.3" cy="206.3" r="1.55"/><circle cx="583.55" cy="209.9" r="1.55"/><circle cx="589.05" cy="209.9" r="1.55"/><circle cx="594.55" cy="209.9" r="1.55"/><circle cx="600.05" cy="209.9" r="1.55"/><circle cx="605.55" cy="209.9" r="1.55"/><circle cx="611.05" cy="209.9" r="1.55"/><circle cx="616.55" cy="209.9" r="1.55"/><circle cx="622.05" cy="209.9" r="1.55"/><circle cx="627.55" cy="209.9" r="1.55"/><circle cx="633.05" cy="209.9" r="1.55"/><circle cx="586.3" cy="213.5" r="1.55"/><circle cx="591.8" cy="213.5" r="1.55"/><circle cx="597.3" cy="213.5" r="1.55"/><circle cx="602.8" cy="213.5" r="1.55"/><circle cx="608.3" cy="213.5" r="1.55"/><circle cx="613.8" cy="213.5" r="1.55"/><circle cx="619.3" cy="213.5" r="1.55"/><circle cx="624.8" cy="213.5" r="1.55"/><circle cx="630.3" cy="213.5" r="1.55"/><circle cx="594.55" cy="217.1" r="1.55"/><circle cx="600.05" cy="217.1" r="1.55"/><circle cx="605.55" cy="217.1" r="1.55"/><circle cx="611.05" cy="217.1" r="1.55"/><circle cx="616.55" cy="217.1" r="1.55"/><circle cx="622.05" cy="217.1" r="1.55"/></g>
<rect x="596.2" y="181.4" width="24.2" height="16.8" rx="4.5" fill="#fff" stroke="#000" stroke-width="2.5" />
<circle cx="599.6" cy="184.5" r="2.7" fill="#000" stroke="#000" stroke-width="0" />
<circle cx="608.3" cy="183.6" r="2.7" fill="#000" stroke="#000" stroke-width="0" />
<circle cx="617" cy="184.5" r="2.7" fill="#000" stroke="#000" stroke-width="0" />
<circle cx="599.6" cy="194.7" r="2.7" fill="#000" stroke="#000" stroke-width="0" />
<circle cx="608.3" cy="195.6" r="2.7" fill="#000" stroke="#000" stroke-width="0" />
<circle cx="617" cy="194.7" r="2.7" fill="#000" stroke="#000" stroke-width="0" />
<rect x="598.4" y="292.4" width="19.6" height="16.6" rx="3" fill="#fff" stroke="#000" stroke-width="1.5" />
<line x1="602.8" y1="292.4" x2="602.8" y2="318" stroke="#000" stroke-width="2" />
<line x1="613.6" y1="292.4" x2="613.6" y2="318" stroke="#000" stroke-width="2" />
<line x1="602.8" y1="299.3" x2="613.6" y2="299.3" stroke="#000" stroke-width="2.2" />
<line x1="602.8" y1="306.6" x2="613.6" y2="306.6" stroke="#000" stroke-width="1.6" />
<path d="M603.4,318 L604.2,391 Q604,410 602,419 Q601.6,425.6 606.6,425.6 Q610.4,425.2 611.8,419 Q616.4,404 616,391.4 L612.4,318" fill="none" stroke="#000" stroke-width="1.9" />
<path d="M605.6,322 L609.6,391.4 Q609.4,408 605.2,417" fill="none" stroke="#111" stroke-width="1.2" />
<line x1="609.6" y1="391.4" x2="616" y2="391.4" stroke="#111" stroke-width="1.2" />
<line x1="786.2" y1="156" x2="786.2" y2="507.5" stroke="#444" stroke-width="0.95" />
<line x1="723.4" y1="320" x2="723.4" y2="507.5" stroke="#262626" stroke-width="1.08" />
<line x1="769" y1="309.4" x2="769" y2="436" stroke="#333" stroke-width="0.95" />
<path d="M776.8,154 L786.2,156.4 L770.2,222 L767.8,237.6 L768.6,291 L754.8,291 L753.6,217.4 Q757,183 776.8,154 Z" fill="#fff" stroke="#000" stroke-width="1.9" />
<line x1="754.8" y1="291" x2="768.6" y2="291" stroke="#000" stroke-width="2.4" />
<path d="M770.2,222 L768.4,228 L769,232" fill="none" stroke="#000" stroke-width="1.4" />
<rect x="725.6" y="292.2" width="43.6" height="17.2" rx="0" fill="#fff" stroke="#000" stroke-width="1.7" />
<rect x="722.6" y="281.2" width="3.4" height="38.8" rx="0.8" fill="#000" stroke="#000" stroke-width="1" />
<rect x="705.2" y="295.2" width="17.4" height="10.6" rx="0" fill="#fff" stroke="#000" stroke-width="1.6" />
<rect x="736.8" y="310.6" width="13.6" height="8.4" rx="1" fill="#fff" stroke="#000" stroke-width="1.5" />
<line x1="738.5" y1="309.6" x2="748.5" y2="309.6" stroke="#000" stroke-width="2.4" />
<rect x="739.9" y="319" width="7.6" height="19" rx="0" fill="#fff" stroke="#000" stroke-width="1.5" />
<line x1="740.6" y1="338" x2="740.6" y2="368" stroke="#000" stroke-width="1.5" />
<line x1="746.6" y1="338" x2="746.6" y2="371.3" stroke="#000" stroke-width="2" />
<line x1="758.4" y1="309.4" x2="758.4" y2="376.3" stroke="#000" stroke-width="1.5" />
<line x1="765.2" y1="309.4" x2="765.2" y2="378.6" stroke="#000" stroke-width="2" />
<line x1="758.4" y1="320.4" x2="765.2" y2="320.4" stroke="#000" stroke-width="1.3" />
<line x1="758.4" y1="360.4" x2="765.2" y2="360.4" stroke="#777" stroke-width="0.8" />
<line x1="758.4" y1="376.3" x2="765.2" y2="378.6" stroke="#222" stroke-width="1" />
<line x1="740.6" y1="368" x2="746.6" y2="371.3" stroke="#222" stroke-width="1" />
<path d="M742.7,370.4 C738.5,381 734.5,398.5 747.7,402.6 C757.5,404.5 759,390 761.3,378.6" fill="none" stroke="#8a8a8a" stroke-width="0.85" />
<line x1="777" y1="154" x2="816" y2="154" stroke="#262626" stroke-width="1.08" />
<line x1="769" y1="290.3" x2="816" y2="290.3" stroke="#262626" stroke-width="1.08" />
<line x1="812" y1="154" x2="812" y2="290.3" stroke="#262626" stroke-width="1.08" />
<polygon points="812,154 817,170.7 807,170.7" fill="#000"/>
<polygon points="812,290.3 807,273.6 817,273.6" fill="#000"/>
<text transform="translate(808 244) rotate(-90) scale(0.996 1.136)" font-size="22" stroke="#000" stroke-width="0.3">244</text>
<text transform="translate(660.8 199.46) scale(0.953 1.007)" font-size="22" stroke="#000" stroke-width="0.3">G1/2</text>
<line x1="661.4" y1="204.8" x2="712.8" y2="204.8" stroke="#4a4a4a" stroke-width="1.35"/>
<line x1="661.4" y1="204.8" x2="711.2" y2="293.8" stroke="#5a5a5a" stroke-width="0.8"/>
<polygon points="711.2,293.8 698.59,281.36 707.33,276.51" fill="#000"/>
<line x1="679.4" y1="281.5" x2="722.6" y2="281.5" stroke="#262626" stroke-width="1.08" />
<line x1="679.4" y1="319.4" x2="722.6" y2="319.4" stroke="#262626" stroke-width="1.08" />
<line x1="679.4" y1="261" x2="679.4" y2="339" stroke="#262626" stroke-width="1.08" />
<polygon points="679.4,281.5 674.4,264.8 684.4,264.8" fill="#000"/>
<polygon points="679.4,319.4 684.4,336.1 674.4,336.1" fill="#000"/>
<text transform="translate(674.47 312.1) rotate(-90) scale(0.921 1.044)" font-size="22" stroke="#000" stroke-width="0.3">70</text>
<rect x="662.9" y="317.8" width="7.4" height="6.4" rx="0" fill="none" stroke="#000" stroke-width="1.6" />
<text transform="translate(658.8 376.54) scale(0.936 1.037)" font-size="22" stroke="#000" stroke-width="0.3">G1/2</text>
<line x1="658" y1="382.2" x2="710.6" y2="382.2" stroke="#4a4a4a" stroke-width="1.35"/>
<line x1="710.6" y1="382.2" x2="737.6" y2="316.5" stroke="#5a5a5a" stroke-width="0.8"/>
<polygon points="737.6,316.5 736.02,334.15 726.72,330.48" fill="#000"/>
<line x1="723.4" y1="433" x2="769" y2="433" stroke="#262626" stroke-width="1.08" />
<polygon points="723.4,433 739.4,428 739.4,438" fill="#000"/>
<polygon points="769,433 753,438 753,428" fill="#000"/>
<text transform="translate(735.2 425.26) scale(0.921 1.095)" font-size="22" stroke="#000" stroke-width="0.3">81</text>
<line x1="723.4" y1="506.8" x2="786.2" y2="506.8" stroke="#262626" stroke-width="1.08" />
<polygon points="723.4,506.8 739.4,501.8 739.4,511.8" fill="#000"/>
<polygon points="786.2,506.8 770.2,511.8 770.2,501.8" fill="#000"/>
<text transform="translate(731.1 501.56) scale(1.021 1.101)" font-size="22" stroke="#000" stroke-width="0.3">~113</text>
<g>
<polygon points="672.1,552.1 674.3,552.7 665.7,580.5 663,578.9" fill="#4f76c0"/>
<rect x="0" y="0" width="14.6" height="12" rx="2.2" fill="none" stroke="#4f76c0" stroke-width="2.4" transform="translate(686.6 546.2) rotate(10)"/>
<polygon points="677,551 708.5,557 705.3,591.2 667.8,584.8" fill="#4f76c0" stroke="#4f76c0" stroke-width="1" stroke-linejoin="round"/>
<path d="M687.6,586 A15.2,15.2 0 0 0 706.4,574.4" fill="none" stroke="#4a8ad9" stroke-width="3"/>
<polygon points="711,568.8 700.8,572 711.9,577.6" fill="#4a8ad9" stroke="#4a8ad9" stroke-width="0.8" stroke-linejoin="round"/>
<circle cx="689.8" cy="570.9" r="12.8" fill="#fdfdfd"/>
<g fill="#e3a35c"><circle cx="689.8" cy="560.9" r="0.75"/><circle cx="694.8" cy="562.24" r="0.75"/><circle cx="698.46" cy="565.9" r="0.75"/><circle cx="699.8" cy="570.9" r="0.75"/><circle cx="698.46" cy="575.9" r="0.75"/><circle cx="694.8" cy="579.56" r="0.75"/><circle cx="689.8" cy="580.9" r="0.75"/><circle cx="684.8" cy="579.56" r="0.75"/><circle cx="681.14" cy="575.9" r="0.75"/><circle cx="679.8" cy="570.9" r="0.75"/><circle cx="681.14" cy="565.9" r="0.75"/><circle cx="684.8" cy="562.24" r="0.75"/></g>
<path d="M686,566.2 L690,571.2 L697.6,567.2" fill="none" stroke="#3b5cad" stroke-width="1.5" stroke-linecap="round" stroke-linejoin="round"/>
<circle cx="690" cy="571.2" r="1.4" fill="#3b5cad"/>
<text x="714.6" y="577.2" font-size="23.7" style="font-weight:normal;fill:#5a8fd2;stroke:#5a8fd2;stroke-width:1.25px" textLength="114.6" lengthAdjust="spacingAndGlyphs">TimeShop</text>
</g>
</svg>
</body>
</html>
